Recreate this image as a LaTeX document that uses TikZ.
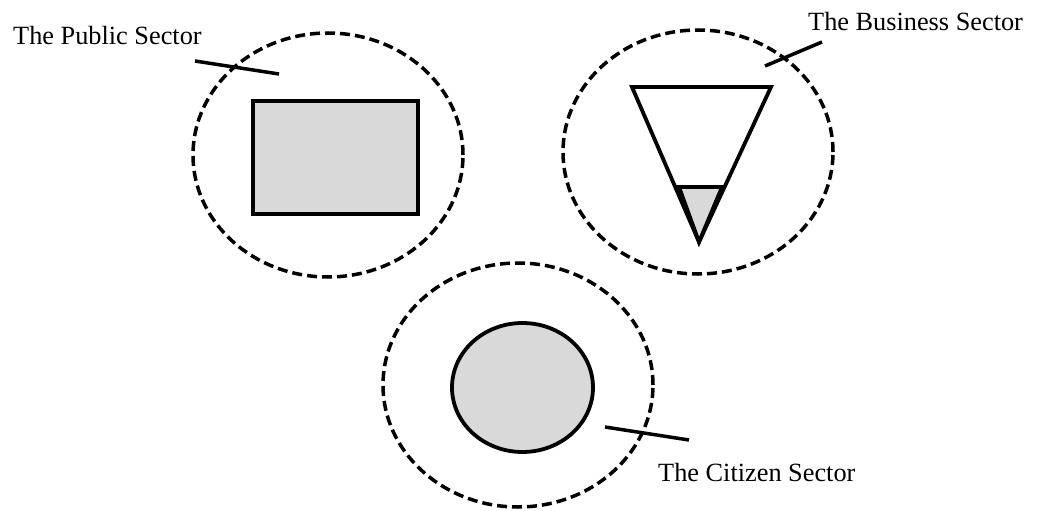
\documentclass[tikz,border=0pt]{standalone}
\usepackage{fontspec}
\setmainfont{Liberation Serif}
\usetikzlibrary{shapes.geometric}
\definecolor{fillgray}{HTML}{D9D9D9}
\tikzset{
  sector/.style={draw=black, line width=3.5pt, dash pattern=on 10pt off 5pt, ellipse, minimum width=270pt, minimum height=244pt, inner sep=0pt},
  solidshape/.style={draw=black, line width=3.8pt, fill=fillgray, line join=miter},
  leader/.style={draw=black, line width=3.5pt},
  label/.style={anchor=base west, inner sep=0pt, font=\fontsize{26.3}{30}\selectfont}
}
\begin{document}
\begin{tikzpicture}[x=1pt, y=-1pt]
\useasboundingbox (0,0) rectangle (1037,511);
% outer sector ellipses
\node[sector] (public) at (328,155) {};
\node[sector] (business) at (698,152) {};
\node[sector] (citizen) at (518,385) {};
% inner shapes
\node[solidshape, minimum width=165pt, minimum height=113pt, inner sep=0pt] (rect) at (335.5,157.5) {};
\draw[solidshape, fill=none] (632,87) coordinate (tl) -- (771,87) coordinate (tr) -- (699,242) coordinate (tb) -- cycle;
\draw[solidshape] (679,187) coordinate (sl) -- (722,187) coordinate (sr) -- (tb) -- cycle;
\node[solidshape, ellipse, minimum width=141pt, minimum height=129pt, inner sep=0pt] (core) at (522.5,387.5) {};
% labels
\node[label] (tpub) at (13,45) {The Public Sector};
\node[label] (tbus) at (808,31) {The Business Sector};
\node[label] (tcit) at (658,481) {The Citizen Sector};
% leaders
\coordinate (pa) at (195,61);
\coordinate (pb) at (279,74);
\coordinate (ba) at (765,66);
\coordinate (bb) at (822,42);
\coordinate (ca) at (605,427);
\coordinate (cb) at (689,440);
\draw[leader] (pa) -- (pb);
\draw[leader] (ba) -- (bb);
\draw[leader] (ca) -- (cb);
\end{tikzpicture}
\end{document}
